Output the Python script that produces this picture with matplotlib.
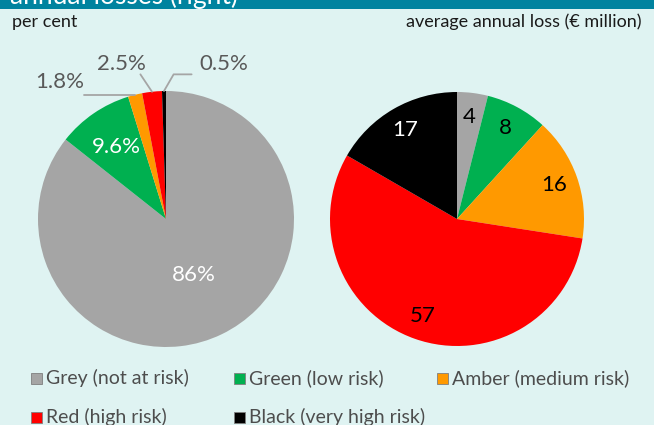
import numpy as np
import matplotlib.pyplot as plt
from matplotlib.patches import Rectangle

plt.rcParams['font.family'] = ['Lato', 'DejaVu Sans']

categories = ['Grey (not at risk)', 'Green (low risk)', 'Amber (medium risk)',
              'Red (high risk)', 'Black (very high risk)']
colors = ['#a5a5a5', '#00b050', '#ff9900', '#ff0000', '#000000']
share_pct = [86, 9.6, 1.8, 2.5, 0.5]
share_labels = ['86%', '9.6%', '1.8%', '2.5%', '0.5%']
loss_meur = [4, 8, 16, 57, 17]
loss_labels = ['4', '8', '16', '57', '17']

bg = '#dff3f2'
W, H = 654, 425


def px_axes(cx, cy, r):
    return [(cx - r) / W, (H - cy - r) / H, 2 * r / W, 2 * r / H]


def mid_angles(vals):
    v = np.array(vals, dtype=float)
    cum = np.cumsum(v) - v / 2
    return np.deg2rad(90 - cum / v.sum() * 360)


fig = plt.figure(figsize=(6.54, 4.25), dpi=100, facecolor=bg)

# banner at the top (title cut off in the original)
fig.patches.append(Rectangle((0, 1 - 9 / H), 1, 9 / H, transform=fig.transFigure,
                             facecolor='#00839f', edgecolor='none'))
fig.text(10 / W, 1 - 4 / H, 'annual losses (right)', color='white', fontsize=19,
         va='baseline', ha='left')
fig.text(12 / W, 1 - 22 / H, 'per cent', fontsize=13, va='center', color='#1a1a1a')
fig.text(642 / W, 1 - 22 / H, 'average annual loss (€ million)', fontsize=13,
         va='center', ha='right', color='#1a1a1a')

# left pie
ax1 = fig.add_axes(px_axes(166, 219, 128))
ax1.pie(share_pct, colors=colors, startangle=90, counterclock=False,
        wedgeprops=dict(linewidth=0))
ax1.set_xlim(-1, 1)
ax1.set_ylim(-1, 1)
ax1.axis('off')
ang = mid_angles(share_pct)
for i in (0, 1):
    rr = [0.49, 0.68][i]
    ax1.text(rr * np.cos(ang[i]), rr * np.sin(ang[i]), share_labels[i], color='white',
             fontsize=16, ha='center', va='center')
# outside labels with leader lines
out = {2: ((-0.83, 1.07), (-0.64, 0.97), 'angle,angleA=0,angleB=90'),
       3: ((-0.35, 1.21), (-0.2, 1.13), 'arc3'),
       4: ((0.45, 1.21), (0.2, 1.13), 'angle,angleA=0,angleB=60')}
for i, (tpos, lstart, cs) in out.items():
    ax1.text(tpos[0], tpos[1], share_labels[i], color='#595959', fontsize=16,
             ha='center', va='center', clip_on=False)
    ax1.annotate('', xy=(np.cos(ang[i]), np.sin(ang[i])), xytext=lstart,
                 arrowprops=dict(arrowstyle='-', color='#a5a5a5', lw=1.3,
                                 connectionstyle=cs, shrinkA=0, shrinkB=0),
                 annotation_clip=False)

# right pie
ax2 = fig.add_axes(px_axes(457, 219, 127))
ax2.pie(loss_meur, colors=colors, startangle=90, counterclock=False,
        wedgeprops=dict(linewidth=0))
ax2.set_xlim(-1, 1)
ax2.set_ylim(-1, 1)
ax2.axis('off')
ang2 = mid_angles(loss_meur)
for i, lab in enumerate(loss_labels):
    rr = 0.81
    ax2.text(rr * np.cos(ang2[i]), rr * np.sin(ang2[i]), lab,
             color='white' if i == 4 else 'black', fontsize=16,
             ha='center', va='center')

# legend
leg_pos = [(31, 378), (234, 378), (437, 378), (31, 417), (234, 417)]
for (x, y), c, lab in zip(leg_pos, colors, categories):
    fig.patches.append(Rectangle((x / W, 1 - (y + 5.5) / H), 11 / W, 11 / H,
                                 transform=fig.transFigure, facecolor=c,
                                 edgecolor='#7f7f7f', linewidth=0.6))
    fig.text((x + 15) / W, 1 - y / H, lab, fontsize=14, va='center', ha='left',
             color='#4d4d4d')

fig.savefig('out.png', dpi=100, facecolor=bg)
